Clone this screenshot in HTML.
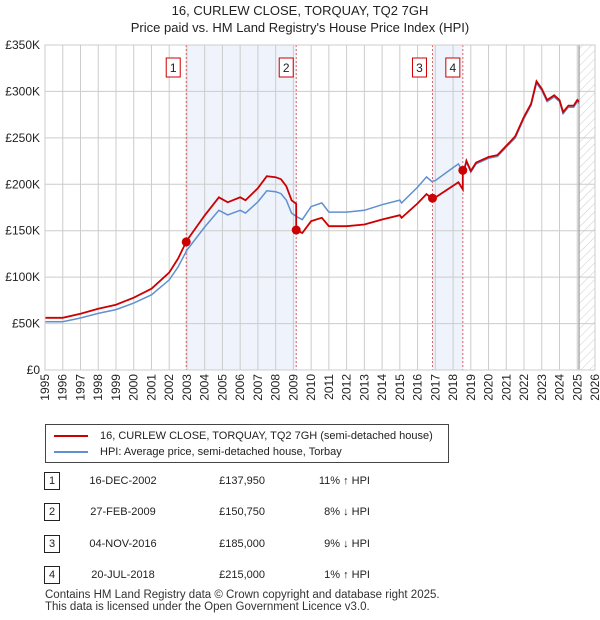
<!DOCTYPE html>
<html><head><meta charset="utf-8"><style>
body{margin:0;background:#fff;font-family:"Liberation Sans","DejaVu Sans",sans-serif;color:#222}
#wrap{position:relative;width:600px;height:620px;overflow:hidden}
.t{position:absolute;font-size:12px}
</style></head><body><div id="wrap">
<svg id="chart" width="600" height="420" style="position:absolute;left:0;top:0"></svg>
<div style="position:absolute;left:45px;top:424px;width:402px;height:37px;border:1px solid #444;font-size:11px">
 <div style="position:absolute;left:8px;top:5px"><span style="display:inline-block;width:34px;height:2px;background:#cc0000;vertical-align:middle;margin-right:12px"></span>16, CURLEW CLOSE, TORQUAY, TQ2 7GH (semi-detached house)</div>
 <div style="position:absolute;left:8px;top:21px"><span style="display:inline-block;width:34px;height:2px;background:#6090d0;vertical-align:middle;margin-right:12px"></span>HPI: Average price, semi-detached house, Torbay</div>
</div>
<div id="rows"></div>
<div class="t" style="left:45px;top:589px;font-size:11.5px;line-height:12px;color:#333">Contains HM Land Registry data © Crown copyright and database right 2025.<br>This data is licensed under the Open Government Licence v3.0.</div>
</div>
<script>
const years=[1995,1996,1997,1998,1999,2000,2001,2002,2002.5,2003,2004,2004.8,2005.3,2006,2006.3,2007,2007.5,2008,2008.3,2008.6,2008.9,2009.2,2009.5,2010,2010.6,2011,2012,2013,2014,2015,2015.1,2016,2016.5,2016.8,2017,2018,2018.3,2018.6,2018.75,2019,2019.3,2020,2020.5,2021,2021.5,2022,2022.4,2022.7,2023,2023.3,2023.7,2024,2024.2,2024.5,2024.8,2025,2025.1];
const hpi=[52,52,56,61,65,72,81,97,111,129,154,172,167,172,169,181,193,192,190,183,169,165,162,176,180,170,170,172,178,183,180,197,208,203,204,218,222,212,224,213,222,228,230,240,250,271,285,309,301,289,294,289,276,283,283,289,287];
const saleDates=[2002.96,2009.16,2016.84,2018.55];
const saleLabels=["16-DEC-2002","27-FEB-2009","04-NOV-2016","20-JUL-2018"];
const salePrices=[137.95,150.75,185,215];
const saleDiff=["11% ↑ HPI","8% ↓ HPI","9% ↓ HPI","1% ↑ HPI"];
const yTicks=[0,50,100,150,200,250,300,350];
const xTicks=[1995,1996,1997,1998,1999,2000,2001,2002,2003,2004,2005,2006,2007,2008,2009,2010,2011,2012,2013,2014,2015,2016,2017,2018,2019,2020,2021,2022,2023,2024,2025,2026];

const X0=45,X1=595,Y0=370,Y1=45;
const xs=v=>X0+(v-1995)/31*(X1-X0);
const ys=v=>Y0-v/350*(Y0-Y1);
const NS="http://www.w3.org/2000/svg";
const svg=document.getElementById('chart');
function el(t,a,p){const e=document.createElementNS(NS,t);for(const k in a)e.setAttribute(k,a[k]);(p||svg).appendChild(e);return e;}
function hpiAt(t){if(t<=years[0])return hpi[0];for(let i=1;i<years.length;i++){if(t<=years[i]){const f=(t-years[i-1])/(years[i]-years[i-1]);return hpi[i-1]+f*(hpi[i]-hpi[i-1]);}}return hpi[hpi.length-1];}
for(const [a,b] of [[0,1],[2,3]]){
 const r=el('rect',{x:xs(saleDates[a]),y:Y1,width:xs(saleDates[b])-xs(saleDates[a]),height:Y0-Y1,fill:'#eef3fc'});
 
 
}
const defs=el('defs',{});
const pat=el('pattern',{id:'h',width:6,height:6,patternUnits:'userSpaceOnUse',patternTransform:'rotate(45)'},defs);
el('line',{x1:0,y1:0,x2:0,y2:6,stroke:'#ccc','stroke-width':1},pat);
const hx=xs(2025.1);
const hr=el('rect',{x:hx,y:Y1,width:X1-hx,height:Y0-Y1,fill:'url(#h)'});


for(const v of yTicks){
 el('line',{x1:X0,x2:X1,y1:ys(v),y2:ys(v),stroke:'#ccc'});
 const t=el('text',{x:40,y:ys(v)+4,'text-anchor':'end','font-size':12,fill:'#222'});t.textContent=v===0?'£0':'£'+v+'K';
 
 
}
for(const v of xTicks){
 el('line',{x1:xs(v),x2:xs(v),y1:Y1,y2:Y0,stroke:'#ccc'});
 const tx=xs(v)+4,ty=374;
 const t=el('text',{x:tx,y:ty,'text-anchor':'end','font-size':12,fill:'#222',transform:'rotate(-90 '+tx+' '+ty+')'});t.textContent=v;
 
 
}
el('line',{x1:hx,x2:hx,y1:Y1,y2:Y0,stroke:'#999','stroke-width':1.2});
saleDates.forEach((d,i)=>{
 el('line',{x1:xs(d),x2:xs(d),y1:Y1,y2:Y0,stroke:'#e06060','stroke-dasharray':'2,2'});
 const bx=xs(d)-(i%2?10:13);
 const g=el('g',{});
 
 
 el('rect',{x:bx-7,y:58,width:14,height:19,fill:'#fff',stroke:'#cc0000'},g);
 const t=el('text',{x:bx,y:72,'text-anchor':'middle','font-size':12,fill:'#222'},g);t.textContent=i+1;
});
let d='';years.forEach((y,i)=>{d+=(i?'L':'M')+xs(y).toFixed(1)+','+ys(hpi[i]).toFixed(1);});
const hl=el('path',{d,fill:'none',stroke:'#6090d0','stroke-width':1.5});


function seg(t){let k=0;for(let i=0;i<saleDates.length;i++)if(t>=saleDates[i])k=i;return k;}
const ts=[...years,...saleDates].sort((a,b)=>a-b);
let d2='';let prevK=seg(ts[0]);
ts.forEach((t,i)=>{
 const k=seg(t);
 if(k!==prevK){const v=salePrices[prevK]*hpiAt(t)/hpiAt(saleDates[prevK]);d2+='L'+xs(t).toFixed(1)+','+ys(v).toFixed(1);}
 const v=salePrices[k]*hpiAt(t)/hpiAt(saleDates[k]);
 d2+=(i?'L':'M')+xs(t).toFixed(1)+','+ys(v).toFixed(1);prevK=k;
});
const pl=el('path',{d:d2,fill:'none',stroke:'#cc0000','stroke-width':1.8});


saleDates.forEach((dd,i)=>{
 const c=el('circle',{cx:xs(dd),cy:ys(salePrices[i]),r:4.5,fill:'#cc0000'});
 
 
});
el('rect',{x:X0,y:Y1,width:X1-X0,height:Y0-Y1,fill:'none',stroke:'#ccc'});
const t1=el('text',{x:300,y:15,'text-anchor':'middle','font-size':13,fill:'#222'});t1.textContent='16, CURLEW CLOSE, TORQUAY, TQ2 7GH';


const t2=el('text',{x:300,y:32,'text-anchor':'middle','font-size':13,fill:'#222'});t2.textContent="Price paid vs. HM Land Registry's House Price Index (HPI)";


const rows=document.getElementById('rows');
const rowY=[481,512,544,575];
saleLabels.forEach((lab,i)=>{
 const r=document.createElement('div');
 
 
 r.style.cssText='position:absolute;left:0;top:'+(rowY[i]-9)+'px;width:600px;height:18px;font-size:11px';
 r.innerHTML='<span style="position:absolute;left:44px;top:0;width:14px;height:16px;border:1px solid #222;text-align:center;line-height:16px">'+(i+1)+'</span>'+
 '<span style="position:absolute;left:78px;width:90px;text-align:center;line-height:18px">'+lab+'</span>'+
 '<span style="position:absolute;left:200px;width:65px;text-align:right;line-height:18px">£'+Math.round(salePrices[i]*1000).toLocaleString('en-GB')+'</span>'+
 '<span style="position:absolute;left:280px;width:90px;text-align:right;line-height:18px">'+saleDiff[i]+'</span>';
 rows.appendChild(r);
});
</script></body></html>
